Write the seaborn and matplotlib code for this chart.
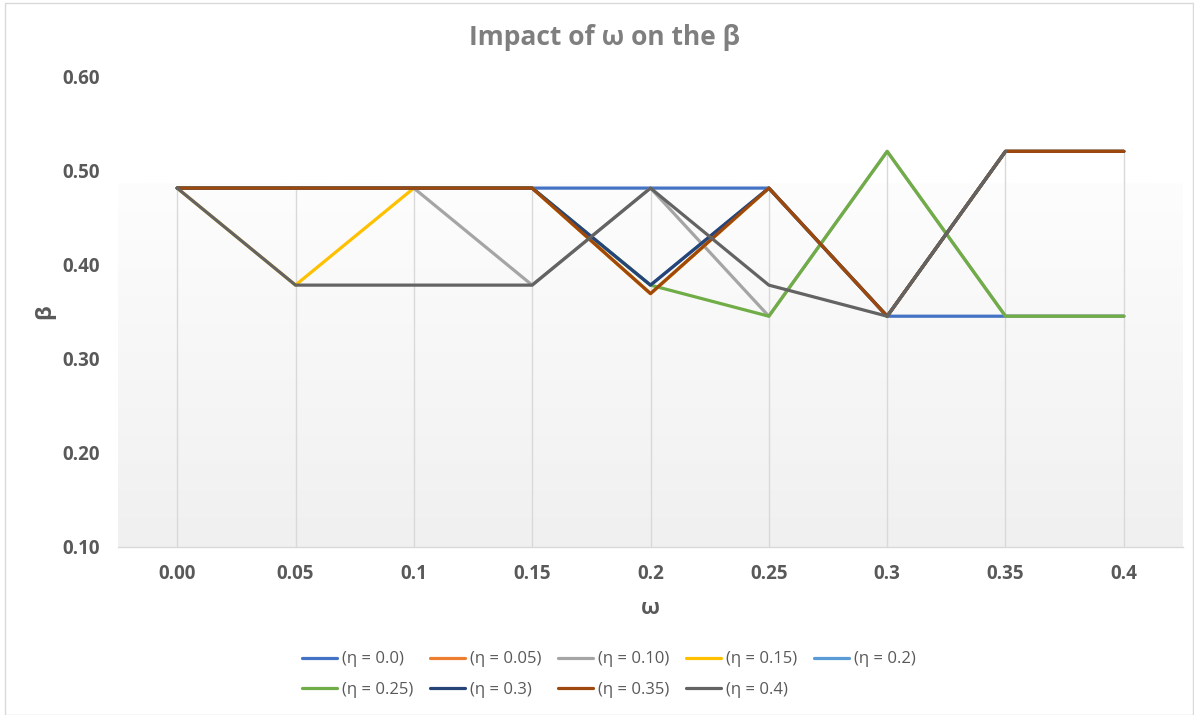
import numpy as np
import pandas as pd
import matplotlib
matplotlib.use("Agg")
import matplotlib.pyplot as plt
from matplotlib.colors import LinearSegmentedColormap
from matplotlib.patches import Rectangle
import seaborn as sns

# omega categories on the x axis
omega_labels = ["0.00", "0.05", "0.1", "0.15", "0.2", "0.25", "0.3", "0.35", "0.4"]

# beta values for each eta series
eta_00 = [0.481, 0.481, 0.481, 0.481, 0.481, 0.481, 0.345, 0.345, 0.345]
eta_05 = [0.481, 0.481, 0.481, 0.481, 0.369, 0.481, 0.345, 0.520, 0.520]
eta_10 = [0.481, 0.481, 0.481, 0.378, 0.481, 0.345, 0.520, 0.345, 0.345]
eta_15 = [0.481, 0.378, 0.481, 0.481, 0.369, 0.481, 0.345, 0.520, 0.520]
eta_20 = [0.481, 0.481, 0.481, 0.481, 0.378, 0.481, 0.345, 0.520, 0.520]
eta_25 = [0.481, 0.481, 0.481, 0.481, 0.378, 0.345, 0.520, 0.345, 0.345]
eta_30 = [0.481, 0.481, 0.481, 0.481, 0.378, 0.481, 0.345, 0.520, 0.520]
eta_35 = [0.481, 0.481, 0.481, 0.481, 0.369, 0.481, 0.345, 0.520, 0.520]
eta_40 = [0.481, 0.378, 0.378, 0.378, 0.481, 0.378, 0.345, 0.520, np.nan]

series_names = ["(η = 0.0)", "(η = 0.05)", "(η = 0.10)", "(η = 0.15)", "(η = 0.2)",
                "(η = 0.25)", "(η = 0.3)", "(η = 0.35)", "(η = 0.4)"]
series_values = [eta_00, eta_05, eta_10, eta_15, eta_20, eta_25, eta_30, eta_35, eta_40]
series_colors = ["#4472C4", "#ED7D31", "#A5A5A5", "#FFC000", "#5B9BD5",
                 "#70AD47", "#264478", "#9E480E", "#636363"]

rows = []
for name, vals in zip(series_names, series_values):
    for i, v in enumerate(vals):
        rows.append({"pos": i, "beta": v, "series": name})
df = pd.DataFrame(rows)

sns.set_theme(style="white")
plt.rcParams["font.family"] = ["Open Sans", "DejaVu Sans"]

fig = plt.figure(figsize=(11.94, 7.15), dpi=100)
ax = fig.add_axes([118 / 1194, 1 - 547 / 715, (1183 - 118) / 1194, (547 - 76) / 715])

y_min, y_max = 0.10, 0.60

# plot-area gradient fill
cmap = LinearSegmentedColormap.from_list("fill", ["#F0F0F0", "#FDFDFD"])
grad = np.linspace(0, 1, 256).reshape(-1, 1)
ax.imshow(grad, cmap=cmap, origin="lower", aspect="auto",
          extent=[-0.5, 8.5, y_min, 0.486], zorder=0)

# drop lines from the highest point of each category down to the axis
cat_max = df.groupby("pos")["beta"].max()
ax.vlines(cat_max.index, y_min, cat_max.values, color="#D9D9D9", linewidth=1.0, zorder=1)

sns.lineplot(data=df, x="pos", y="beta", hue="series", hue_order=series_names,
             palette=series_colors, linewidth=2.3, ax=ax, legend=True,
             estimator=None, sort=False, zorder=3)

ax.set_xlim(-0.5, 8.5)
ax.set_ylim(y_min, y_max)
ax.set_xticks(range(len(omega_labels)))
ax.set_xticklabels(omega_labels)
yticks = [0.10, 0.20, 0.30, 0.40, 0.50, 0.60]
ax.set_yticks(yticks)
ax.set_yticklabels([f"{t:.2f}" for t in yticks])
for lbl in ax.get_xticklabels() + ax.get_yticklabels():
    lbl.set_fontweight("bold")
    lbl.set_fontsize(13.5)
    lbl.set_color("#595959")
ax.tick_params(axis="x", length=0, pad=12)
ax.tick_params(axis="y", length=0, pad=13)

ax.grid(False)
for side in ["top", "right", "left"]:
    ax.spines[side].set_visible(False)
ax.spines["bottom"].set_color("#D9D9D9")
ax.spines["bottom"].set_linewidth(1.0)
ax.patch.set_alpha(0)

ax.set_xlabel("ω", fontsize=16, fontweight="bold", color="#595959", labelpad=10)
ax.set_ylabel("β", fontsize=16, fontweight="bold", color="#595959", labelpad=5)

fig.text(0.506, 0.947, "Impact of ω on the β", ha="center", va="center",
         fontsize=19, fontweight="bold", color="#7F7F7F")

handles, labels = ax.get_legend_handles_labels()
ax.get_legend().remove()
order = [0, 5, 1, 6, 2, 7, 3, 8, 4]
leg = fig.legend([handles[i] for i in order], [labels[i] for i in order],
                 loc="center", bbox_to_anchor=(0.51, 1 - 674.5 / 715), ncol=5,
                 frameon=False, fontsize=12, handlelength=2.1, handletextpad=0.3,
                 columnspacing=1.0, labelspacing=0.85)
for t in leg.get_texts():
    t.set_color("#595959")
for h in leg.get_lines():
    h.set_linewidth(2.3)

# chart border
fig.patches.append(Rectangle((5 / 1194, 0), 1 - 6 / 1194, 1 - 3 / 715, transform=fig.transFigure,
                             fill=False, edgecolor="#D9D9D9", linewidth=1.0))

fig.savefig("out.png", dpi=100, facecolor="white")
